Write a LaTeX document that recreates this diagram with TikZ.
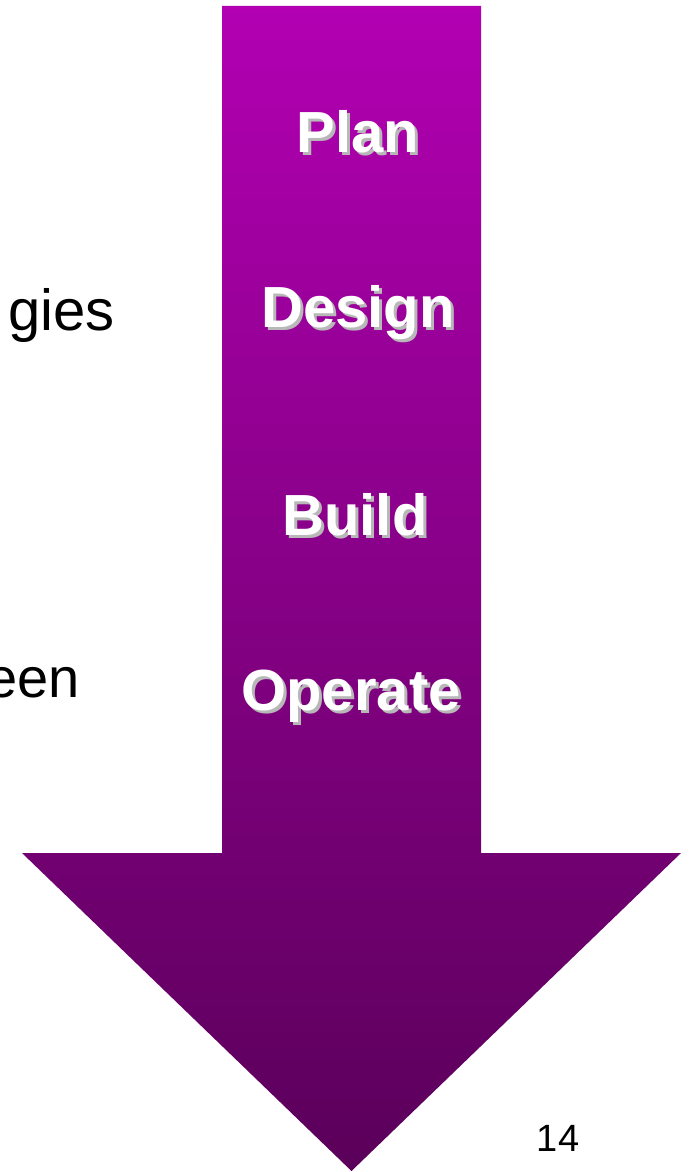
\documentclass[tikz,border=0pt]{standalone}
\usepackage{fontspec}
\setmainfont{Liberation Sans}
\newcommand{\shadowtext}[1]{\makebox[0pt][l]{\hspace{3pt}\raisebox{-3pt}{\textcolor{black!28}{#1}}}#1}
\begin{document}
\begin{tikzpicture}[x=1pt,y=-1pt,
  lbl/.style={font=\fontsize{58}{60}\selectfont\bfseries, text=white, inner sep=0pt, anchor=base},
  side/.style={inner sep=0pt}]
\useasboundingbox (0,0) rectangle (690,1172);
\shade[top color={rgb,255:red,178;green,0;blue,178}, bottom color={rgb,255:red,90;green,0;blue,90}]
  (222,6) -- (481,6) -- (481,853) -- (681,853) -- (351.5,1171) -- (22,853) -- (222,853) -- cycle;
\node[lbl] (plan) at (358,152) {\shadowtext{Plan}};
\node[lbl] (design) at (358,327) {\shadowtext{Design}};
\node[lbl] (build) at (355,535) {\shadowtext{Build}};
\node[lbl] (operate) at (351,710) {\shadowtext{Operate}};
\node[side, font=\fontsize{58}{62}\selectfont, anchor=base west] (gies) at (8,330) {gies};
\node[side, font=\fontsize{56}{60}\selectfont, anchor=base east] (een) at (80,697) {een};
\node[font=\fontsize{38}{40}\selectfont, inner sep=0pt, anchor=base] (pg) at (558,1151) {14};
\end{tikzpicture}
\end{document}
